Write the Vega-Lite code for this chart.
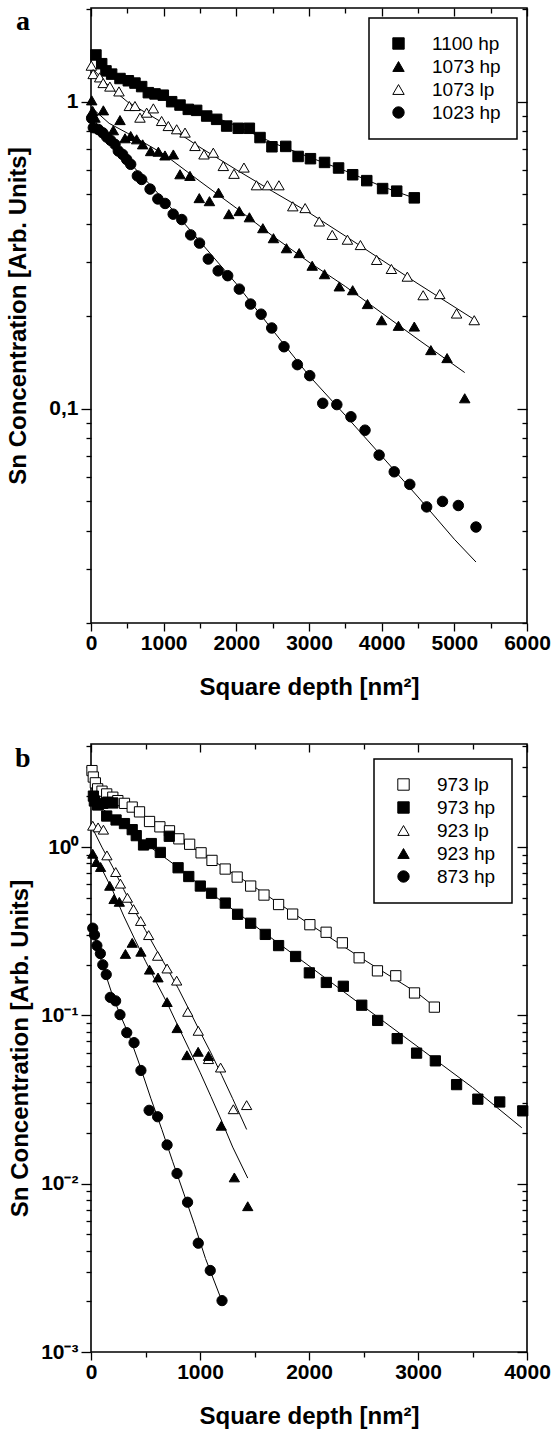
{
  "$schema": "https://vega.github.io/schema/vega-lite/v6.json",
  "background": "white",
  "padding": {"left": 6, "top": -3, "right": 5, "bottom": 0},
  "spacing": 34,
  "datasets": {
    "pa": [
      {"s":"1100 hp","d":68,"c":1.42},{"s":"1100 hp","d":147,"c":1.33},{"s":"1100 hp","d":206,"c":1.26},{"s":"1100 hp","d":284,"c":1.23},{"s":"1100 hp","d":399,"c":1.19},{"s":"1100 hp","d":514,"c":1.17},{"s":"1100 hp","d":605,"c":1.15},{"s":"1100 hp","d":697,"c":1.12},{"s":"1100 hp","d":789,"c":1.07},{"s":"1100 hp","d":881,"c":1.06},{"s":"1100 hp","d":995,"c":1.05},{"s":"1100 hp","d":1110,"c":1.0},{"s":"1100 hp","d":1225,"c":0.975},{"s":"1100 hp","d":1339,"c":0.944},{"s":"1100 hp","d":1454,"c":0.937},{"s":"1100 hp","d":1592,"c":0.898},{"s":"1100 hp","d":1729,"c":0.876},{"s":"1100 hp","d":1867,"c":0.833},{"s":"1100 hp","d":2027,"c":0.819},{"s":"1100 hp","d":2179,"c":0.819},{"s":"1100 hp","d":2326,"c":0.764},{"s":"1100 hp","d":2490,"c":0.713},{"s":"1100 hp","d":2680,"c":0.715},{"s":"1100 hp","d":2850,"c":0.663},{"s":"1100 hp","d":3020,"c":0.652},{"s":"1100 hp","d":3214,"c":0.634},{"s":"1100 hp","d":3407,"c":0.608},{"s":"1100 hp","d":3601,"c":0.578},{"s":"1100 hp","d":3795,"c":0.553},{"s":"1100 hp","d":4013,"c":0.521},{"s":"1100 hp","d":4207,"c":0.511},{"s":"1100 hp","d":4449,"c":0.486},
      {"s":"1073 hp","d":10,"c":1.01},{"s":"1073 hp","d":23,"c":0.933},{"s":"1073 hp","d":55,"c":0.887},{"s":"1073 hp","d":170,"c":0.937},{"s":"1073 hp","d":307,"c":0.807},{"s":"1073 hp","d":399,"c":0.871},{"s":"1073 hp","d":468,"c":0.76},{"s":"1073 hp","d":546,"c":0.773},{"s":"1073 hp","d":628,"c":0.754},{"s":"1073 hp","d":711,"c":0.726},{"s":"1073 hp","d":821,"c":0.69},{"s":"1073 hp","d":927,"c":0.687},{"s":"1073 hp","d":1018,"c":0.668},{"s":"1073 hp","d":1133,"c":0.673},{"s":"1073 hp","d":1225,"c":0.58},{"s":"1073 hp","d":1362,"c":0.573},{"s":"1073 hp","d":1490,"c":0.485},{"s":"1073 hp","d":1630,"c":0.474},{"s":"1073 hp","d":1755,"c":0.505},{"s":"1073 hp","d":1897,"c":0.43},{"s":"1073 hp","d":2040,"c":0.44},{"s":"1073 hp","d":2180,"c":0.42},{"s":"1073 hp","d":2365,"c":0.387},{"s":"1073 hp","d":2511,"c":0.359},{"s":"1073 hp","d":2690,"c":0.333},{"s":"1073 hp","d":2865,"c":0.321},{"s":"1073 hp","d":3044,"c":0.292},{"s":"1073 hp","d":3214,"c":0.274},{"s":"1073 hp","d":3417,"c":0.25},{"s":"1073 hp","d":3601,"c":0.243},{"s":"1073 hp","d":3805,"c":0.219},{"s":"1073 hp","d":3999,"c":0.194},{"s":"1073 hp","d":4231,"c":0.186},{"s":"1073 hp","d":4449,"c":0.185},{"s":"1073 hp","d":4677,"c":0.155},{"s":"1073 hp","d":4900,"c":0.146},{"s":"1073 hp","d":5143,"c":0.108},
      {"s":"1073 lp","d":5,"c":1.31},{"s":"1073 lp","d":30,"c":1.23},{"s":"1073 lp","d":120,"c":1.2},{"s":"1073 lp","d":168,"c":1.15},{"s":"1073 lp","d":260,"c":1.12},{"s":"1073 lp","d":385,"c":1.08},{"s":"1073 lp","d":528,"c":0.968},{"s":"1073 lp","d":605,"c":0.968},{"s":"1073 lp","d":674,"c":0.887},{"s":"1073 lp","d":766,"c":0.921},{"s":"1073 lp","d":858,"c":0.951},{"s":"1073 lp","d":972,"c":0.865},{"s":"1073 lp","d":1064,"c":0.833},{"s":"1073 lp","d":1179,"c":0.813},{"s":"1073 lp","d":1294,"c":0.793},{"s":"1073 lp","d":1431,"c":0.717},{"s":"1073 lp","d":1555,"c":0.673},{"s":"1073 lp","d":1683,"c":0.682},{"s":"1073 lp","d":1821,"c":0.617},{"s":"1073 lp","d":1968,"c":0.582},{"s":"1073 lp","d":2105,"c":0.61},{"s":"1073 lp","d":2277,"c":0.534},{"s":"1073 lp","d":2428,"c":0.534},{"s":"1073 lp","d":2586,"c":0.534},{"s":"1073 lp","d":2777,"c":0.456},{"s":"1073 lp","d":2947,"c":0.45},{"s":"1073 lp","d":3141,"c":0.407},{"s":"1073 lp","d":3320,"c":0.368},{"s":"1073 lp","d":3529,"c":0.355},{"s":"1073 lp","d":3708,"c":0.341},{"s":"1073 lp","d":3931,"c":0.305},{"s":"1073 lp","d":4134,"c":0.285},{"s":"1073 lp","d":4353,"c":0.269},{"s":"1073 lp","d":4571,"c":0.234},{"s":"1073 lp","d":4799,"c":0.236},{"s":"1073 lp","d":5031,"c":0.204},{"s":"1073 lp","d":5274,"c":0.194},
      {"s":"1023 hp","d":9,"c":0.883},{"s":"1023 hp","d":32,"c":0.823},{"s":"1023 hp","d":101,"c":0.812},{"s":"1023 hp","d":161,"c":0.792},{"s":"1023 hp","d":216,"c":0.767},{"s":"1023 hp","d":271,"c":0.748},{"s":"1023 hp","d":330,"c":0.726},{"s":"1023 hp","d":376,"c":0.691},{"s":"1023 hp","d":436,"c":0.673},{"s":"1023 hp","d":491,"c":0.648},{"s":"1023 hp","d":546,"c":0.625},{"s":"1023 hp","d":638,"c":0.573},{"s":"1023 hp","d":697,"c":0.558},{"s":"1023 hp","d":813,"c":0.519},{"s":"1023 hp","d":920,"c":0.482},{"s":"1023 hp","d":1020,"c":0.466},{"s":"1023 hp","d":1131,"c":0.43},{"s":"1023 hp","d":1249,"c":0.413},{"s":"1023 hp","d":1372,"c":0.368},{"s":"1023 hp","d":1493,"c":0.346},{"s":"1023 hp","d":1614,"c":0.307},{"s":"1023 hp","d":1750,"c":0.281},{"s":"1023 hp","d":1881,"c":0.271},{"s":"1023 hp","d":2041,"c":0.245},{"s":"1023 hp","d":2196,"c":0.219},{"s":"1023 hp","d":2341,"c":0.203},{"s":"1023 hp","d":2487,"c":0.183},{"s":"1023 hp","d":2656,"c":0.159},{"s":"1023 hp","d":2840,"c":0.139},{"s":"1023 hp","d":3010,"c":0.128},{"s":"1023 hp","d":3189,"c":0.104},{"s":"1023 hp","d":3383,"c":0.103},{"s":"1023 hp","d":3577,"c":0.094},{"s":"1023 hp","d":3771,"c":0.085},{"s":"1023 hp","d":3965,"c":0.0705},{"s":"1023 hp","d":4173,"c":0.0622},{"s":"1023 hp","d":4387,"c":0.0566},{"s":"1023 hp","d":4619,"c":0.0478},{"s":"1023 hp","d":4837,"c":0.0498},{"s":"1023 hp","d":5055,"c":0.0483},{"s":"1023 hp","d":5298,"c":0.0411}
    ],
    "la": [
      {"s":"1100 hp","d":68,"c":1.40},{"s":"1100 hp","d":200,"c":1.28},{"s":"1100 hp","d":400,"c":1.19},{"s":"1100 hp","d":700,"c":1.12},{"s":"1100 hp","d":1000,"c":1.045},{"s":"1100 hp","d":1500,"c":0.93},{"s":"1100 hp","d":2000,"c":0.835},{"s":"1100 hp","d":2500,"c":0.735},{"s":"1100 hp","d":3000,"c":0.66},{"s":"1100 hp","d":3500,"c":0.595},{"s":"1100 hp","d":4000,"c":0.53},{"s":"1100 hp","d":4450,"c":0.485},
      {"s":"1073 hp","d":0,"c":0.96},{"s":"1073 hp","d":250,"c":0.85},{"s":"1073 hp","d":500,"c":0.79},{"s":"1073 hp","d":1000,"c":0.675},{"s":"1073 hp","d":1500,"c":0.55},{"s":"1073 hp","d":2000,"c":0.45},{"s":"1073 hp","d":2500,"c":0.365},{"s":"1073 hp","d":3000,"c":0.3},{"s":"1073 hp","d":3500,"c":0.25},{"s":"1073 hp","d":4000,"c":0.205},{"s":"1073 hp","d":4500,"c":0.168},{"s":"1073 hp","d":5143,"c":0.131},
      {"s":"1073 lp","d":0,"c":1.3},{"s":"1073 lp","d":250,"c":1.12},{"s":"1073 lp","d":500,"c":1.0},{"s":"1073 lp","d":1000,"c":0.85},{"s":"1073 lp","d":1500,"c":0.71},{"s":"1073 lp","d":2000,"c":0.6},{"s":"1073 lp","d":2500,"c":0.51},{"s":"1073 lp","d":3000,"c":0.435},{"s":"1073 lp","d":3500,"c":0.365},{"s":"1073 lp","d":4000,"c":0.305},{"s":"1073 lp","d":4500,"c":0.255},{"s":"1073 lp","d":5274,"c":0.195},
      {"s":"1023 hp","d":0,"c":0.9},{"s":"1023 hp","d":200,"c":0.78},{"s":"1023 hp","d":500,"c":0.645},{"s":"1023 hp","d":1000,"c":0.48},{"s":"1023 hp","d":1500,"c":0.35},{"s":"1023 hp","d":2000,"c":0.255},{"s":"1023 hp","d":2500,"c":0.18},{"s":"1023 hp","d":3000,"c":0.128},{"s":"1023 hp","d":3500,"c":0.095},{"s":"1023 hp","d":4000,"c":0.07},{"s":"1023 hp","d":4500,"c":0.0515},{"s":"1023 hp","d":5000,"c":0.0375},{"s":"1023 hp","d":5298,"c":0.0316}
    ],
    "pb": [
      {"s":"973 lp","d":9,"c":2.85},{"s":"973 lp","d":21,"c":2.61},{"s":"973 lp","d":40,"c":2.41},{"s":"973 lp","d":61,"c":2.22},{"s":"973 lp","d":101,"c":2.15},{"s":"973 lp","d":144,"c":2.07},{"s":"973 lp","d":200,"c":1.98},{"s":"973 lp","d":246,"c":1.89},{"s":"973 lp","d":307,"c":1.82},{"s":"973 lp","d":378,"c":1.73},{"s":"973 lp","d":445,"c":1.62},{"s":"973 lp","d":537,"c":1.42},{"s":"973 lp","d":632,"c":1.32},{"s":"973 lp","d":720,"c":1.25},{"s":"973 lp","d":806,"c":1.12},{"s":"973 lp","d":905,"c":1.04},{"s":"973 lp","d":1010,"c":0.925},{"s":"973 lp","d":1110,"c":0.834},{"s":"973 lp","d":1231,"c":0.741},{"s":"973 lp","d":1341,"c":0.664},{"s":"973 lp","d":1465,"c":0.587},{"s":"973 lp","d":1587,"c":0.519},{"s":"973 lp","d":1721,"c":0.456},{"s":"973 lp","d":1850,"c":0.4},{"s":"973 lp","d":2008,"c":0.346},{"s":"973 lp","d":2157,"c":0.312},{"s":"973 lp","d":2306,"c":0.27},{"s":"973 lp","d":2460,"c":0.22},{"s":"973 lp","d":2628,"c":0.184},{"s":"973 lp","d":2796,"c":0.172},{"s":"973 lp","d":2968,"c":0.136},{"s":"973 lp","d":3150,"c":0.112},
      {"s":"973 hp","d":22,"c":2.01},{"s":"973 hp","d":31,"c":1.88},{"s":"973 hp","d":61,"c":1.78},{"s":"973 hp","d":108,"c":1.82},{"s":"973 hp","d":154,"c":1.85},{"s":"973 hp","d":200,"c":1.83},{"s":"973 hp","d":144,"c":1.53},{"s":"973 hp","d":230,"c":1.45},{"s":"973 hp","d":307,"c":1.38},{"s":"973 hp","d":378,"c":1.27},{"s":"973 hp","d":415,"c":1.17},{"s":"973 hp","d":482,"c":1.03},{"s":"973 hp","d":553,"c":1.05},{"s":"973 hp","d":636,"c":0.93},{"s":"973 hp","d":718,"c":1.16},{"s":"973 hp","d":799,"c":0.754},{"s":"973 hp","d":897,"c":0.669},{"s":"973 hp","d":1003,"c":0.587},{"s":"973 hp","d":1106,"c":0.532},{"s":"973 hp","d":1232,"c":0.465},{"s":"973 hp","d":1345,"c":0.399},{"s":"973 hp","d":1465,"c":0.353},{"s":"973 hp","d":1599,"c":0.303},{"s":"973 hp","d":1721,"c":0.26},{"s":"973 hp","d":1877,"c":0.224},{"s":"973 hp","d":2003,"c":0.179},{"s":"973 hp","d":2159,"c":0.157},{"s":"973 hp","d":2315,"c":0.149},{"s":"973 hp","d":2484,"c":0.115},{"s":"973 hp","d":2630,"c":0.0934},{"s":"973 hp","d":2809,"c":0.0728},{"s":"973 hp","d":2987,"c":0.0597},{"s":"973 hp","d":3159,"c":0.0537},{"s":"973 hp","d":3354,"c":0.0388},{"s":"973 hp","d":3549,"c":0.0318},{"s":"973 hp","d":3750,"c":0.0306},{"s":"973 hp","d":3961,"c":0.0271},
      {"s":"923 lp","d":16,"c":1.34},{"s":"923 lp","d":65,"c":1.31},{"s":"923 lp","d":114,"c":1.27},{"s":"923 lp","d":146,"c":0.893},{"s":"923 lp","d":227,"c":0.711},{"s":"923 lp","d":270,"c":0.607},{"s":"923 lp","d":334,"c":0.5},{"s":"923 lp","d":390,"c":0.428},{"s":"923 lp","d":455,"c":0.364},{"s":"923 lp","d":529,"c":0.3},{"s":"923 lp","d":611,"c":0.226},{"s":"923 lp","d":698,"c":0.19},{"s":"923 lp","d":786,"c":0.161},{"s":"923 lp","d":888,"c":0.105},{"s":"923 lp","d":984,"c":0.081},{"s":"923 lp","d":1078,"c":0.055},{"s":"923 lp","d":1189,"c":0.049},{"s":"923 lp","d":1306,"c":0.0277},{"s":"923 lp","d":1428,"c":0.0293},
      {"s":"923 hp","d":16,"c":0.913},{"s":"923 hp","d":49,"c":0.815},{"s":"923 hp","d":88,"c":0.762},{"s":"923 hp","d":172,"c":0.589},{"s":"923 hp","d":211,"c":0.491},{"s":"923 hp","d":260,"c":0.473},{"s":"923 hp","d":316,"c":0.232},{"s":"923 hp","d":378,"c":0.27},{"s":"923 hp","d":458,"c":0.239},{"s":"923 hp","d":537,"c":0.187},{"s":"923 hp","d":615,"c":0.168},{"s":"923 hp","d":698,"c":0.12},{"s":"923 hp","d":790,"c":0.084},{"s":"923 hp","d":880,"c":0.058},{"s":"923 hp","d":983,"c":0.0608},{"s":"923 hp","d":1078,"c":0.0574},{"s":"923 hp","d":1195,"c":0.0221},{"s":"923 hp","d":1315,"c":0.0109},{"s":"923 hp","d":1438,"c":0.00735},
      {"s":"873 hp","d":16,"c":0.33},{"s":"873 hp","d":32,"c":0.301},{"s":"873 hp","d":54,"c":0.26},{"s":"873 hp","d":86,"c":0.233},{"s":"873 hp","d":108,"c":0.2},{"s":"873 hp","d":140,"c":0.175},{"s":"873 hp","d":177,"c":0.128},{"s":"873 hp","d":226,"c":0.122},{"s":"873 hp","d":266,"c":0.101},{"s":"873 hp","d":328,"c":0.079},{"s":"873 hp","d":395,"c":0.0689},{"s":"873 hp","d":458,"c":0.0471},{"s":"873 hp","d":533,"c":0.0273},{"s":"873 hp","d":611,"c":0.025},{"s":"873 hp","d":698,"c":0.017},{"s":"873 hp","d":789,"c":0.0115},{"s":"873 hp","d":886,"c":0.00776},{"s":"873 hp","d":984,"c":0.00443},{"s":"873 hp","d":1094,"c":0.00305},{"s":"873 hp","d":1202,"c":0.00202}
    ],
    "lb": [
      {"s":"973 lp","d":0,"c":2.75},{"s":"973 lp","d":100,"c":2.2},{"s":"973 lp","d":250,"c":1.9},{"s":"973 lp","d":500,"c":1.5},{"s":"973 lp","d":1000,"c":0.93},{"s":"973 lp","d":1500,"c":0.58},{"s":"973 lp","d":2000,"c":0.35},{"s":"973 lp","d":2500,"c":0.215},{"s":"973 lp","d":3000,"c":0.135},{"s":"973 lp","d":3150,"c":0.113},
      {"s":"973 hp","d":0,"c":1.95},{"s":"973 hp","d":100,"c":1.7},{"s":"973 hp","d":250,"c":1.42},{"s":"973 hp","d":500,"c":1.05},{"s":"973 hp","d":750,"c":0.8},{"s":"973 hp","d":1000,"c":0.594},{"s":"973 hp","d":1500,"c":0.342},{"s":"973 hp","d":2000,"c":0.197},{"s":"973 hp","d":2500,"c":0.113},{"s":"973 hp","d":3000,"c":0.065},{"s":"973 hp","d":3500,"c":0.0373},{"s":"973 hp","d":3952,"c":0.0215},
      {"s":"923 lp","d":0,"c":1.35},{"s":"923 lp","d":100,"c":1.0},{"s":"923 lp","d":200,"c":0.76},{"s":"923 lp","d":300,"c":0.56},{"s":"923 lp","d":400,"c":0.42},{"s":"923 lp","d":500,"c":0.32},{"s":"923 lp","d":600,"c":0.245},{"s":"923 lp","d":700,"c":0.19},{"s":"923 lp","d":800,"c":0.145},{"s":"923 lp","d":900,"c":0.108},{"s":"923 lp","d":1000,"c":0.08},{"s":"923 lp","d":1100,"c":0.06},{"s":"923 lp","d":1200,"c":0.044},{"s":"923 lp","d":1300,"c":0.032},{"s":"923 lp","d":1428,"c":0.021},
      {"s":"923 hp","d":0,"c":0.95},{"s":"923 hp","d":100,"c":0.74},{"s":"923 hp","d":200,"c":0.55},{"s":"923 hp","d":300,"c":0.39},{"s":"923 hp","d":400,"c":0.285},{"s":"923 hp","d":500,"c":0.21},{"s":"923 hp","d":600,"c":0.157},{"s":"923 hp","d":700,"c":0.118},{"s":"923 hp","d":800,"c":0.086},{"s":"923 hp","d":900,"c":0.063},{"s":"923 hp","d":1000,"c":0.046},{"s":"923 hp","d":1100,"c":0.033},{"s":"923 hp","d":1200,"c":0.0235},{"s":"923 hp","d":1300,"c":0.0165},{"s":"923 hp","d":1438,"c":0.0108},
      {"s":"873 hp","d":15,"c":0.33},{"s":"873 hp","d":50,"c":0.265},{"s":"873 hp","d":100,"c":0.205},{"s":"873 hp","d":150,"c":0.163},{"s":"873 hp","d":200,"c":0.13},{"s":"873 hp","d":270,"c":0.1},{"s":"873 hp","d":350,"c":0.076},{"s":"873 hp","d":450,"c":0.05},{"s":"873 hp","d":550,"c":0.032},{"s":"873 hp","d":650,"c":0.021},{"s":"873 hp","d":750,"c":0.0135},{"s":"873 hp","d":850,"c":0.0088},{"s":"873 hp","d":950,"c":0.0057},{"s":"873 hp","d":1050,"c":0.0036},{"s":"873 hp","d":1202,"c":0.002}
    ]
  },
  "vconcat": [
    {
      "title": {"text": "a", "anchor": "start", "frame": "group", "orient": "top", "offset": -60, "dx": -75, "baseline": "alphabetic", "font": "Liberation Serif", "fontWeight": "bold", "fontSize": 28, "color": "black"},
      "width": 436,
      "height": 615,
      "layer": [
        {
          "data": {"name": "la"},
          "mark": {"type": "line", "color": "black", "strokeWidth": 1},
          "encoding": {
            "x": {"field": "d", "type": "quantitative", "scale": {"domain": [0, 6000], "nice": false},
                  "axis": {"orient": "bottom", "values": [0,500,1000,1500,2000,2500,3000,3500,4000,4500,5000,5500,6000], "format": "d", "labelExpr": "datum.value % 1000 === 0 ? datum.label : ''", "labelOverlap": false, "labelFlush": false, "labelPadding": 1, "tickSize": {"condition": {"test": "datum.value % 1000 === 0", "value": 8}, "value": 5}, "title": "Square depth [nm²]", "titlePadding": 22}},
            "y": {"field": "c", "type": "quantitative", "scale": {"type": "log", "domain": [0.02, 2.02], "nice": false},
                  "axis": {"orient": "left", "values": [0.02,0.03,0.04,0.05,0.06,0.07,0.08,0.09,0.1,0.2,0.3,0.4,0.5,0.6,0.7,0.8,0.9,1,2], "labelExpr": "abs(datum.value-1)<1e-9 ? '1' : abs(datum.value-0.1)<1e-9 ? '0,1' : ''", "labelOverlap": false, "labelFlush": false, "tickSize": {"condition": {"test": "abs(datum.value-1)<1e-9 || abs(datum.value-0.1)<1e-9", "value": 10}, "value": 5}, "title": "Sn Concentration [Arb. Units]", "titlePadding": 18}},
            "detail": {"field": "s"}
          }
        },
        {
          "data": {"name": "pa"},
          "mark": {"type": "point", "strokeWidth": 1, "size": 110, "opacity": 1},
          "encoding": {
            "x": {"field": "d", "type": "quantitative",
                  "axis": {"orient": "top", "values": [0,500,1000,1500,2000,2500,3000,3500,4000,4500,5000,5500,6000], "labels": false, "title": null, "tickSize": {"condition": {"test": "datum.value % 1000 === 0", "value": -8}, "value": -5}}},
            "y": {"field": "c", "type": "quantitative",
                  "axis": {"orient": "right", "values": [0.02,0.03,0.04,0.05,0.06,0.07,0.08,0.09,0.1,0.2,0.3,0.4,0.5,0.6,0.7,0.8,0.9,1,2], "labels": false, "title": null, "tickSize": {"condition": {"test": "abs(datum.value-1)<1e-9 || abs(datum.value-0.1)<1e-9", "value": -10}, "value": -5}}},
            "shape": {"field": "s", "type": "nominal", "sort": null, "scale": {"domain": ["1100 hp","1073 hp","1073 lp","1023 hp"], "range": ["square","triangle-up","triangle-up","circle"]}, "legend": {"title": null, "orient": "top-right", "offset": 10}},
            "fill": {"field": "s", "type": "nominal", "sort": null, "scale": {"domain": ["1100 hp","1073 hp","1073 lp","1023 hp"], "range": ["black","black","white","black"]}, "legend": {"title": null, "orient": "top-right", "offset": 10}},
            "stroke": {"field": "s", "type": "nominal", "sort": null, "scale": {"domain": ["1100 hp","1073 hp","1073 lp","1023 hp"], "range": ["black","black","black","black"]}, "legend": {"title": null, "orient": "top-right", "offset": 10}}
          }
        }
      ],
      "resolve": {"axis": {"x": "independent", "y": "independent"}}
    },
    {
      "title": {"text": "b", "anchor": "start", "frame": "group", "orient": "top", "offset": -60, "dx": -76, "baseline": "alphabetic", "font": "Liberation Serif", "fontWeight": "bold", "fontSize": 28, "color": "black"},
      "width": 436,
      "height": 608,
      "layer": [
        {
          "data": {"name": "lb"},
          "mark": {"type": "line", "color": "black", "strokeWidth": 1},
          "encoding": {
            "x": {"field": "d", "type": "quantitative", "scale": {"domain": [0, 4000], "nice": false},
                  "axis": {"orient": "bottom", "values": [0,500,1000,1500,2000,2500,3000,3500,4000], "format": "d", "labelExpr": "datum.value % 1000 === 0 ? datum.label : ''", "labelOverlap": false, "labelFlush": false, "labelPadding": 1, "tickSize": {"condition": {"test": "datum.value % 1000 === 0", "value": 8}, "value": 5}, "title": "Square depth [nm²]", "titlePadding": 22}},
            "y": {"field": "c", "type": "quantitative", "scale": {"type": "log", "domain": [0.001, 4.1], "nice": false},
                  "axis": {"orient": "left", "values": [0.001,0.002,0.003,0.004,0.005,0.006,0.007,0.008,0.009,0.01,0.02,0.03,0.04,0.05,0.06,0.07,0.08,0.09,0.1,0.2,0.3,0.4,0.5,0.6,0.7,0.8,0.9,1,2,3,4], "labelExpr": "abs(datum.value-1)<1e-9 ? '10⁰' : abs(datum.value-0.1)<1e-9 ? '10⁻¹' : abs(datum.value-0.01)<1e-9 ? '10⁻²' : abs(datum.value-0.001)<1e-9 ? '10⁻³' : ''", "labelOverlap": false, "labelFlush": false, "tickSize": {"condition": {"test": "abs(datum.value-1)<1e-9 || abs(datum.value-0.1)<1e-9 || abs(datum.value-0.01)<1e-9 || abs(datum.value-0.001)<1e-9", "value": 10}, "value": 5}, "title": "Sn Concentration [Arb. Units]", "titlePadding": 8}},
            "detail": {"field": "s"}
          }
        },
        {
          "data": {"name": "pb"},
          "mark": {"type": "point", "strokeWidth": 1, "size": 105, "opacity": 1},
          "encoding": {
            "x": {"field": "d", "type": "quantitative",
                  "axis": {"orient": "top", "values": [0,500,1000,1500,2000,2500,3000,3500,4000], "labels": false, "title": null, "tickSize": {"condition": {"test": "datum.value % 1000 === 0", "value": -8}, "value": -5}}},
            "y": {"field": "c", "type": "quantitative",
                  "axis": {"orient": "right", "values": [0.001,0.002,0.003,0.004,0.005,0.006,0.007,0.008,0.009,0.01,0.02,0.03,0.04,0.05,0.06,0.07,0.08,0.09,0.1,0.2,0.3,0.4,0.5,0.6,0.7,0.8,0.9,1,2,3,4], "labels": false, "title": null, "tickSize": {"condition": {"test": "abs(datum.value-1)<1e-9 || abs(datum.value-0.1)<1e-9 || abs(datum.value-0.01)<1e-9 || abs(datum.value-0.001)<1e-9", "value": -10}, "value": -5}}},
            "shape": {"field": "s", "type": "nominal", "sort": null, "scale": {"domain": ["973 lp","973 hp","923 lp","923 hp","873 hp"], "range": ["square","square","triangle-up","triangle-up","circle"]}, "legend": {"title": null, "orient": "top-right", "offset": 15}},
            "fill": {"field": "s", "type": "nominal", "sort": null, "scale": {"domain": ["973 lp","973 hp","923 lp","923 hp","873 hp"], "range": ["white","black","white","black","black"]}, "legend": {"title": null, "orient": "top-right", "offset": 15}},
            "stroke": {"field": "s", "type": "nominal", "sort": null, "scale": {"domain": ["973 lp","973 hp","923 lp","923 hp","873 hp"], "range": ["black","black","black","black","black"]}, "legend": {"title": null, "orient": "top-right", "offset": 15}}
          }
        }
      ],
      "resolve": {"axis": {"x": "independent", "y": "independent"}}
    }
  ],
  "resolve": {"scale": {"shape": "independent", "fill": "independent", "stroke": "independent"}, "legend": {"shape": "independent", "fill": "independent", "stroke": "independent"}},
  "config": {
    "view": {"stroke": "black", "strokeWidth": 1.6},
    "axis": {"domain": false, "grid": false, "tickColor": "black", "tickWidth": 1.3, "labelColor": "black", "titleColor": "black", "labelFont": "Liberation Sans", "labelFontWeight": "bold", "labelFontSize": 21, "labelPadding": 3, "titleFont": "Liberation Sans", "titleFontWeight": "bold", "titleFontSize": 24},
    "legend": {"strokeColor": "black", "strokeWidth": 1.5, "fillColor": "white", "padding": 16, "labelFont": "Liberation Sans", "labelFontSize": 19, "labelColor": "black", "labelOffset": 24, "symbolSize": 130, "symbolStrokeWidth": 1, "symbolOffset": 4, "rowPadding": 3}
  }
}
